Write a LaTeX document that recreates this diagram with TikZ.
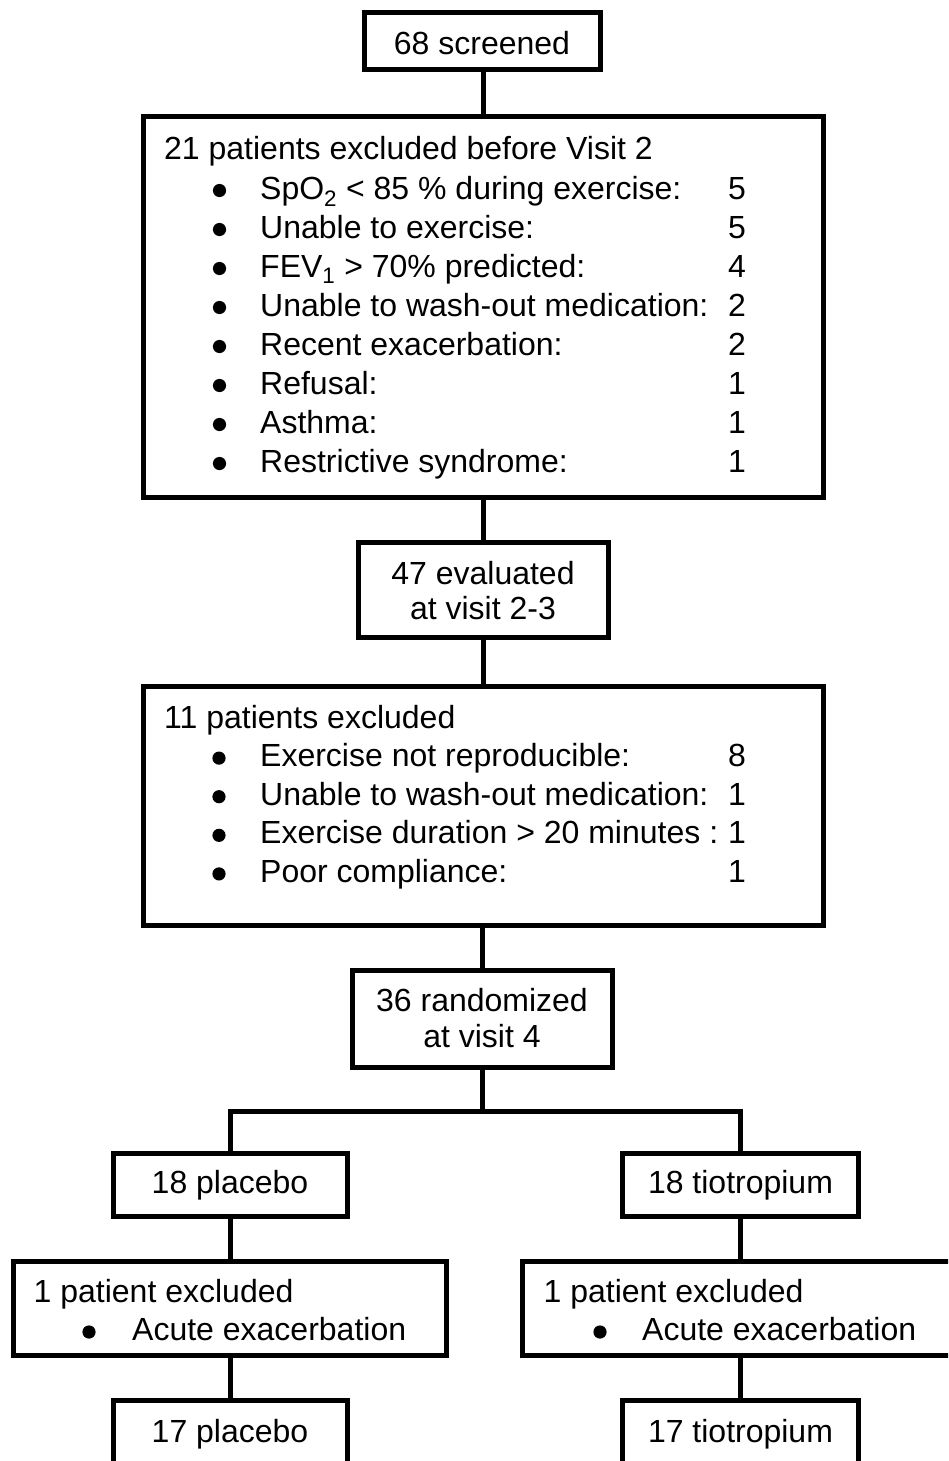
\documentclass[tikz,border=0pt]{standalone}
\usepackage{fontspec}
\setmainfont{Liberation Sans}
\newcommand\figfont{\fontsize{32}{39}\selectfont}
\begin{document}
\begin{tikzpicture}[x=1pt,y=-1pt,
  box/.style={draw, line width=5pt, inner sep=0pt, fill=none},
  conn/.style={line width=5pt},
  txt/.style={inner sep=0pt, anchor=base west, font=\figfont},
  ctxt/.style={inner sep=0pt, anchor=base, font=\figfont},
  bul/.style={fill=black}]
\useasboundingbox (0,0) rectangle (948,1461);
\clip (0,0) rectangle (948,1461);
\fill[white] (0,0) rectangle (948,1461);

% boxes
\node[box, minimum width=236pt, minimum height=57pt] (b1) at (482,41) {};
\node[box, minimum width=680pt, minimum height=380pt] (b2) at (483,307) {};
\node[box, minimum width=250pt, minimum height=95pt] (b3) at (483,589.5) {};
\node[box, minimum width=680pt, minimum height=239pt] (b4) at (483,805.5) {};
\node[box, minimum width=260pt, minimum height=97pt] (b5) at (482,1018.5) {};
\node[box, minimum width=234pt, minimum height=63pt] (b6) at (230,1184.5) {};
\node[box, minimum width=236pt, minimum height=63pt] (b7) at (740.5,1184.5) {};
\node[box, minimum width=433pt, minimum height=94pt] (b8) at (230,1308) {};
\node[box, minimum width=438pt, minimum height=94pt] (b9) at (741,1308) {};
\node[box, minimum width=234pt, minimum height=70pt] (b10) at (230,1435) {};
\node[box, minimum width=236pt, minimum height=70pt] (b11) at (740.5,1435) {};
\coordinate (split) at (482,1111);

% connectors
\draw[conn] (b2.north) -- (b2.north |- b1.south);
\draw[conn] (b2.south) -- (b3.north);
\draw[conn] (b3.south) -- (b4.north);
\draw[conn] (b5.north) -- (b5.north |- b4.south);
\draw[conn] (b5.south) -- (split);
\draw[conn] (b6.north) |- (split) -| (b7.north);
\draw[conn] (b6.south) -- (b6.south |- b8.north);
\draw[conn] (b7.south) -- (b7.south |- b9.north);
\draw[conn] (b10.north) -- (b10.north |- b8.south);
\draw[conn] (b11.north) -- (b11.north |- b9.south);

% texts
\node[ctxt] (t1) at (482,55) {68 screened};

\node[txt] (t2h) at (164,160) {21 patients excluded before Visit 2};
\foreach \t/\n [count=\i] in {%
  {SpO\textsubscript{2} < 85 \% during exercise:}/5,
  {Unable to exercise:}/5,
  {FEV\textsubscript{1} > 70\% predicted:}/4,
  {Unable to wash-out medication:}/2,
  {Recent exacerbation:}/2,
  {Refusal:}/1,
  {Asthma:}/1,
  {Restrictive syndrome:}/1}{
  \pgfmathsetmacro\yy{160+39*\i}
  \fill[bul] (219.5,{\yy-8.5}) circle (6.6pt);
  \node[txt] (t2i\i) at (260,\yy) {\t};
  \node[txt] (t2n\i) at (728,\yy) {\n};
}

\node[ctxt] (t3a) at (483,584) {47 evaluated};
\node[ctxt] (t3b) at (483,619) {at visit 2-3};

\node[txt] (t4h) at (164,728) {11 patients excluded};
\foreach \t/\n [count=\i] in {%
  {Exercise not reproducible:}/8,
  {Unable to wash-out medication:}/1,
  {Exercise duration > 20 minutes :}/1,
  {Poor compliance:}/1}{
  \pgfmathsetmacro\yy{728+38.6*\i}
  \fill[bul] (219,{\yy-8.5}) circle (6.6pt);
  \node[txt] (t4i\i) at (260,\yy) {\t};
  \node[txt] (t4n\i) at (728,\yy) {\n};
}

\node[ctxt] (t5a) at (482,1011) {36 randomized};
\node[ctxt] (t5b) at (482,1047) {at visit 4};

\node[ctxt] (t6) at (230,1193) {18 placebo};
\node[ctxt] (t7) at (740.5,1193) {18 tiotropium};

\node[txt] (t8a) at (33.5,1302) {1 patient excluded};
\fill[bul] (89,1332) circle (6.6pt);
\node[txt] (t8b) at (132,1340) {Acute exacerbation};

\node[txt] (t9a) at (543.5,1302) {1 patient excluded};
\fill[bul] (600,1332) circle (6.6pt);
\node[txt] (t9b) at (642,1340) {Acute exacerbation};

\node[ctxt] (t10) at (230,1442) {17 placebo};
\node[ctxt] (t11) at (740.5,1442) {17 tiotropium};
\end{tikzpicture}
\end{document}
